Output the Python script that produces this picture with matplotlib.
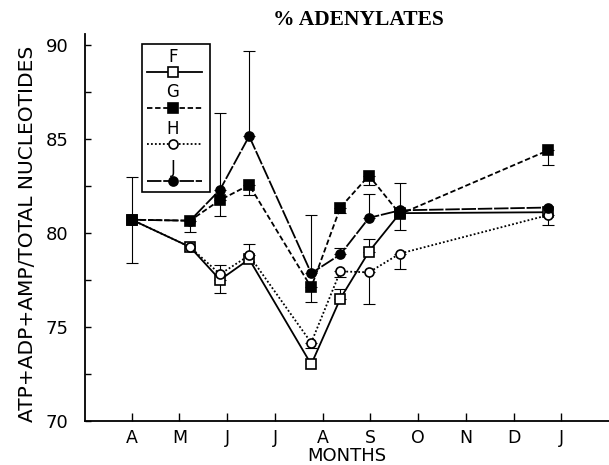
import matplotlib.pyplot as plt
from matplotlib.lines import Line2D
from matplotlib.patches import Rectangle
from matplotlib.ticker import MultipleLocator
import numpy as np

# sampling dates, in months counted from April
months = [0, 1.22, 1.85, 2.46, 3.76, 4.37, 4.97, 5.62, 8.73]
month_labels = ['A', 'M', 'J', 'J', 'A', 'S', 'O', 'N', 'D', 'J']

# % adenylates for each group
F = [80.7, 79.25, 77.5, 78.6, 73.0, 76.5, 79.0, 81.05, 81.1]
G = [80.7, 80.65, 81.75, 82.55, 77.1, 81.35, 83.05, 81.0, 84.4]
H = [80.7, 79.25, 77.8, 78.8, 74.15, 77.95, 77.9, 78.9, 80.95]
J = [80.7, 80.65, 82.3, 85.15, 77.85, 78.85, 80.8, 81.2, 81.35]

# one-sided error bars (below, above)
F_lo = [0, 0, 0.7, 0, 0, 0, 0, 0, 0]
F_hi = [0, 0, 0, 0, 0, 0.5, 0.7, 0, 0]
G_lo = [0, 0.6, 0.85, 0.55, 0.8, 0.3, 0.5, 0, 0.8]
G_hi = [0, 0, 0, 0, 0, 0, 0, 0, 0]
H_lo = [0, 0, 0, 0, 0.3, 0.3, 1.7, 0.8, 0.55]
H_hi = [0, 0, 0.5, 0.6, 0, 0, 0, 0, 0]
J_lo = [2.3, 0, 0, 0, 0, 0, 0, 1.05, 0]
J_hi = [2.3, 0, 4.1, 4.55, 3.1, 0.35, 1.25, 1.45, 0]

groups = [
    ('F', F, F_lo, F_hi, '-', 's', 'white'),
    ('G', G, G_lo, G_hi, (0, (3, 1.5)), 's', 'black'),
    ('H', H, H_lo, H_hi, (0, (1, 1.2)), 'o', 'white'),
    ('J', J, J_lo, J_hi, (0, (8, 1)), 'o', 'black'),
]

fig = plt.figure(figsize=(6.09, 4.65), dpi=100)
ax = fig.add_axes([85 / 609, 44.3 / 465, 524 / 609, 386.9 / 465])

for name, vals, lo, hi, ls, mk, face in groups:
    x = np.array(months)
    y = np.array(vals)
    lo = np.array(lo)
    hi = np.array(hi)
    keep = (lo > 0) | (hi > 0)
    ax.errorbar(x[keep], y[keep], yerr=[lo[keep], hi[keep]], fmt='none',
                ecolor='black', elinewidth=0.8, capsize=4, capthick=0.8,
                zorder=2)
    ax.plot(x, y, color='black', linestyle=ls, linewidth=1.3, marker=mk,
            markersize=6.5, markerfacecolor=face, markeredgecolor='black',
            markeredgewidth=1.2, zorder=3)

ax.set_xlim(-0.98, 10.0)
ax.set_ylim(70, 90.6)
ax.set_xticks(range(len(month_labels)))
ax.set_xticklabels(month_labels)
ax.set_yticks([70, 75, 80, 85, 90])
ax.yaxis.set_minor_locator(MultipleLocator(2.5))

for side in ['top', 'right']:
    ax.spines[side].set_visible(False)
for side in ['left', 'bottom']:
    ax.spines[side].set_linewidth(1.3)

ax.tick_params(axis='x', direction='in', length=6, width=1, pad=6,
               labelsize=12.5)
ax.tick_params(axis='y', which='major', direction='in', length=4, width=1,
               pad=12, labelsize=13)
ax.tick_params(axis='y', which='minor', direction='in', length=4, width=1)

fig.text(27.5 / 609, 1 - 234 / 465, 'ATP+ADP+AMP/TOTAL NUCLEOTIDES',
         rotation=90, ha='center', va='center', fontsize=14.5)
fig.text(347 / 609, 1 - 456 / 465, 'MONTHS', ha='center', va='center',
         fontsize=13)
fig.text(358 / 609, 1 - 20 / 465, '% ADENYLATES', ha='center', va='center',
         fontsize=15.5, fontweight='bold', family='Liberation Serif')

# hand-made key: label above a short line sample
ax.add_patch(Rectangle((0.1088, 0.5911), 0.1297, 0.3825,
                       transform=ax.transAxes, fill=False,
                       edgecolor='black', linewidth=1.2, zorder=4))
label_y = [0.940, 0.849, 0.754, 0.653]
line_y = [0.901, 0.808, 0.715, 0.619]
for (name, vals, lo, hi, ls, mk, face), ty, ly in zip(groups, label_y, line_y):
    ax.text(0.168, ty, name, transform=ax.transAxes, ha='center',
            va='center', fontsize=12)
    ax.add_line(Line2D([0.118, 0.223], [ly, ly], transform=ax.transAxes,
                       color='black', linestyle=ls, linewidth=1.3))
    ax.add_line(Line2D([0.168], [ly], transform=ax.transAxes, marker=mk,
                       markersize=6.5, markerfacecolor=face,
                       markeredgecolor='black', markeredgewidth=1.2,
                       linestyle='none'))

fig.savefig('out.png', dpi=100)
